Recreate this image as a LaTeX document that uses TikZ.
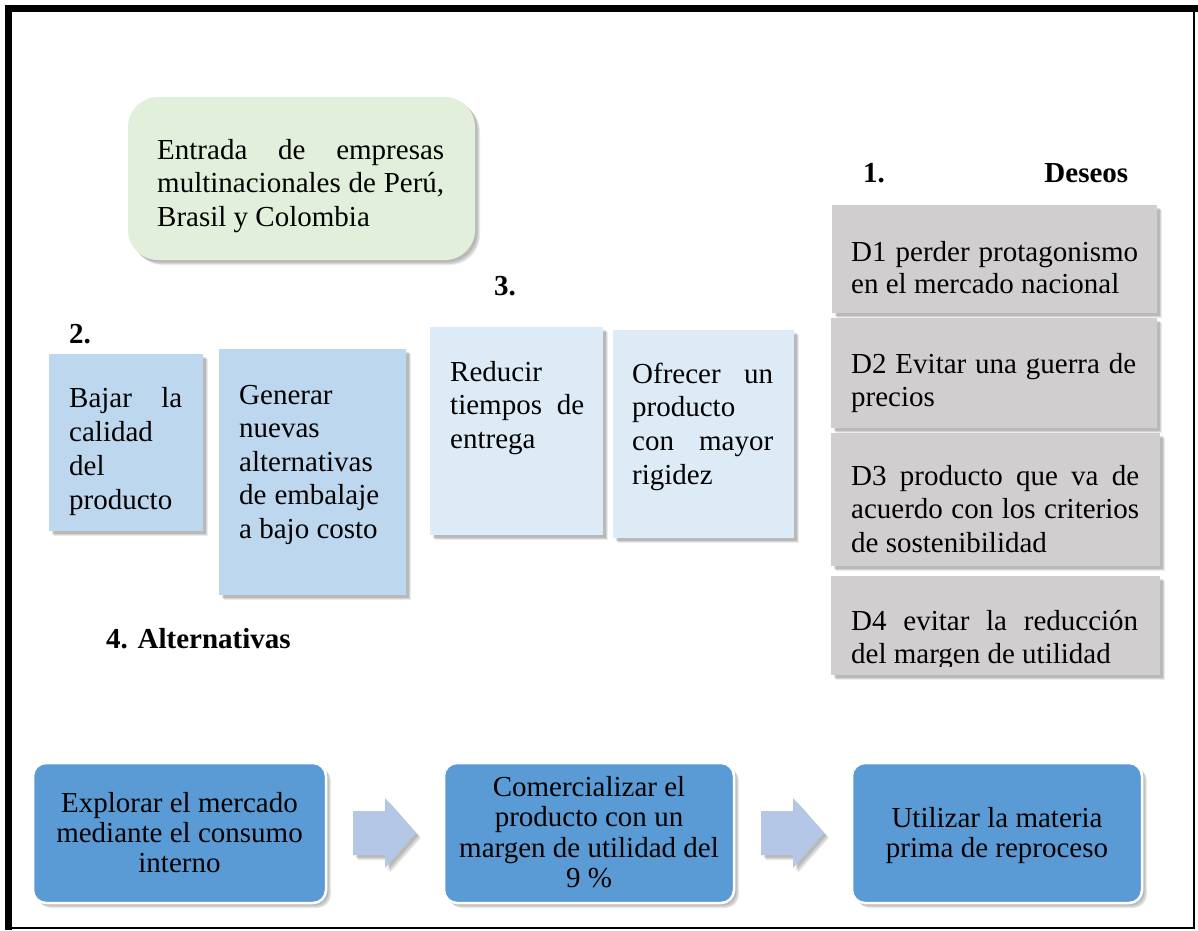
\documentclass[tikz,border=0pt]{standalone}
\usepackage{fontspec}
\setmainfont{Liberation Serif}
\usetikzlibrary{shadows,calc}
\definecolor{grn}{HTML}{E2EFDA}
\definecolor{blmid}{HTML}{BDD7EE}
\definecolor{bllight}{HTML}{DDEBF7}
\definecolor{gry}{HTML}{D0CECE}
\definecolor{bldark}{HTML}{5B9BD5}
\definecolor{arrc}{HTML}{B4C7E7}
\begin{document}
\begin{tikzpicture}[x=1pt,y=-1pt,
  txt/.style={anchor=base west, inner sep=0pt, align=left, font=\fontsize{29}{33.8}\selectfont},
  hd/.style={anchor=base west, inner sep=0pt, font=\bfseries\fontsize{29}{33.8}\selectfont},
  ctxt/.style={anchor=base, inner sep=0pt, align=center, font=\fontsize{29}{30.5}\selectfont},
  soft/.style={general shadow={shadow xshift=5pt,shadow yshift=-5pt,fill=black,opacity=0.08},
               general shadow={shadow xshift=4pt,shadow yshift=-4pt,fill=black,opacity=0.10},
               general shadow={shadow xshift=2.5pt,shadow yshift=-2.5pt,fill=black,opacity=0.12}},
  box/.style={anchor=north west, inner sep=0pt, outer sep=0pt, soft},
  rbox/.style={box, fill=bldark, draw=white, line width=2.5pt, rounded corners=13pt,
               minimum width=290pt, minimum height=140pt},
  barrow/.style={fill=arrc, soft},
]
\useasboundingbox (0,0) rectangle (1198,930);
\fill[white] (0,0) rectangle (1198,930);

% frame
\draw[line width=6.5pt] (8.5,4.5) -- (8.5,930);
\draw[line width=7pt] (5,8) -- (1198,8);
\draw[line width=2pt] (1194,8) -- (1194,928) -- (8,928);

% green box
\node[box, fill=grn, rounded corners=30pt, minimum width=347pt, minimum height=163pt] (green) at (128,97) {};
\node[txt] (tgreen) at (157,226.6) {\makebox[287pt][s]{Entrada de empresas}\\\makebox[287pt][s]{multinacionales de Perú,}\\Brasil y Colombia};

% headings
\node[hd] (h1) at (863,182) {\makebox[265pt][s]{1. Deseos}};
\node[hd] (h2) at (69,343) {2.};
\node[hd] (h3) at (494,295) {3.};
\node[hd] (h4) at (106,648) {4. Alternativas};

% alternative boxes
\node[box, fill=blmid, minimum width=154pt, minimum height=177pt] (bajar) at (49,354) {};
\node[txt, font=\fontsize{29}{34}\selectfont] (tbajar) at (69,509) {\makebox[113pt][s]{Bajar la}\\calidad\\del\\producto};

\node[box, fill=blmid, minimum width=187pt, minimum height=246pt] (gen) at (219,349) {};
\node[txt, font=\fontsize{29}{33.5}\selectfont] (tgen) at (239,538) {Generar\\nuevas\\alternativas\\\makebox[140pt][s]{de embalaje}\\a bajo costo};

\node[box, fill=bllight, minimum width=173pt, minimum height=208pt] (red) at (430,327) {};
\node[txt] (tred) at (450,448.6) {Reducir\\\makebox[134pt][s]{tiempos de}\\entrega};

\node[box, fill=bllight, minimum width=181pt, minimum height=208pt] (ofr) at (613,330) {};
\node[txt] (tofr) at (632,484.4) {\makebox[141pt][s]{Ofrecer un}\\producto\\\makebox[141pt][s]{con mayor}\\rigidez};

% deseos boxes
\node[box, fill=gry, minimum width=325pt, minimum height=108pt] (d1) at (832,205) {};
\node[txt, font=\fontsize{29}{32}\selectfont] (td1) at (851,293) {\makebox[287pt][s]{D1 perder protagonismo}\\en el mercado nacional};

\node[box, fill=gry, minimum width=326pt, minimum height=110pt] (d2) at (831,318) {};
\node[txt, font=\fontsize{29}{33}\selectfont] (td2) at (851,406) {\makebox[285pt][s]{D2 Evitar una guerra de}\\precios};

\node[box, fill=gry, minimum width=329pt, minimum height=133pt] (d3) at (831,433) {};
\node[txt, font=\fontsize{29}{33.5}\selectfont] (td3) at (851,552) {\makebox[288pt][s]{D3 producto que va de}\\\makebox[288pt][s]{acuerdo con los criterios}\\de sostenibilidad};

\node[box, fill=gry, minimum width=329pt, minimum height=99pt] (d4) at (831,576) {};
\begin{scope}
\clip (820,570) rectangle (1170,666);
\node[txt, font=\fontsize{29}{33}\selectfont] (td4) at (851,663) {\makebox[287pt][s]{D4 evitar la reducción}\\del margen de utilidad};
\end{scope}

% bottom boxes
\node[rbox, minimum width=293pt] (b1) at (33,763) {};
\node[ctxt, font=\fontsize{29}{30}\selectfont] (tb1) at (179.5,872) {Explorar el mercado\\mediante el consumo\\interno};
\node[rbox] (b2) at (444,763) {};
\node[ctxt] (tb2) at (589,887.5) {Comercializar el\\producto con un\\margen de utilidad del\\9 \%};
\node[rbox] (b3) at (852,763) {};
\node[ctxt] (tb3) at (997,857.5) {Utilizar la materia\\prima de reproceso};

% block arrows
\begin{scope}[shift={($(b1.east)!.5!(b2.west)$)}]
\path[barrow] (-32,-22) -- (0,-22) -- (0,-35) -- (31,0) -- (0,35) -- (0,22) -- (-32,22) -- cycle;
\end{scope}
\begin{scope}[shift={($(b2.east)!.5!(b3.west)$)}]
\path[barrow] (-32,-22) -- (0,-22) -- (0,-35) -- (31,0) -- (0,35) -- (0,22) -- (-32,22) -- cycle;
\end{scope}
\end{tikzpicture}
\end{document}
